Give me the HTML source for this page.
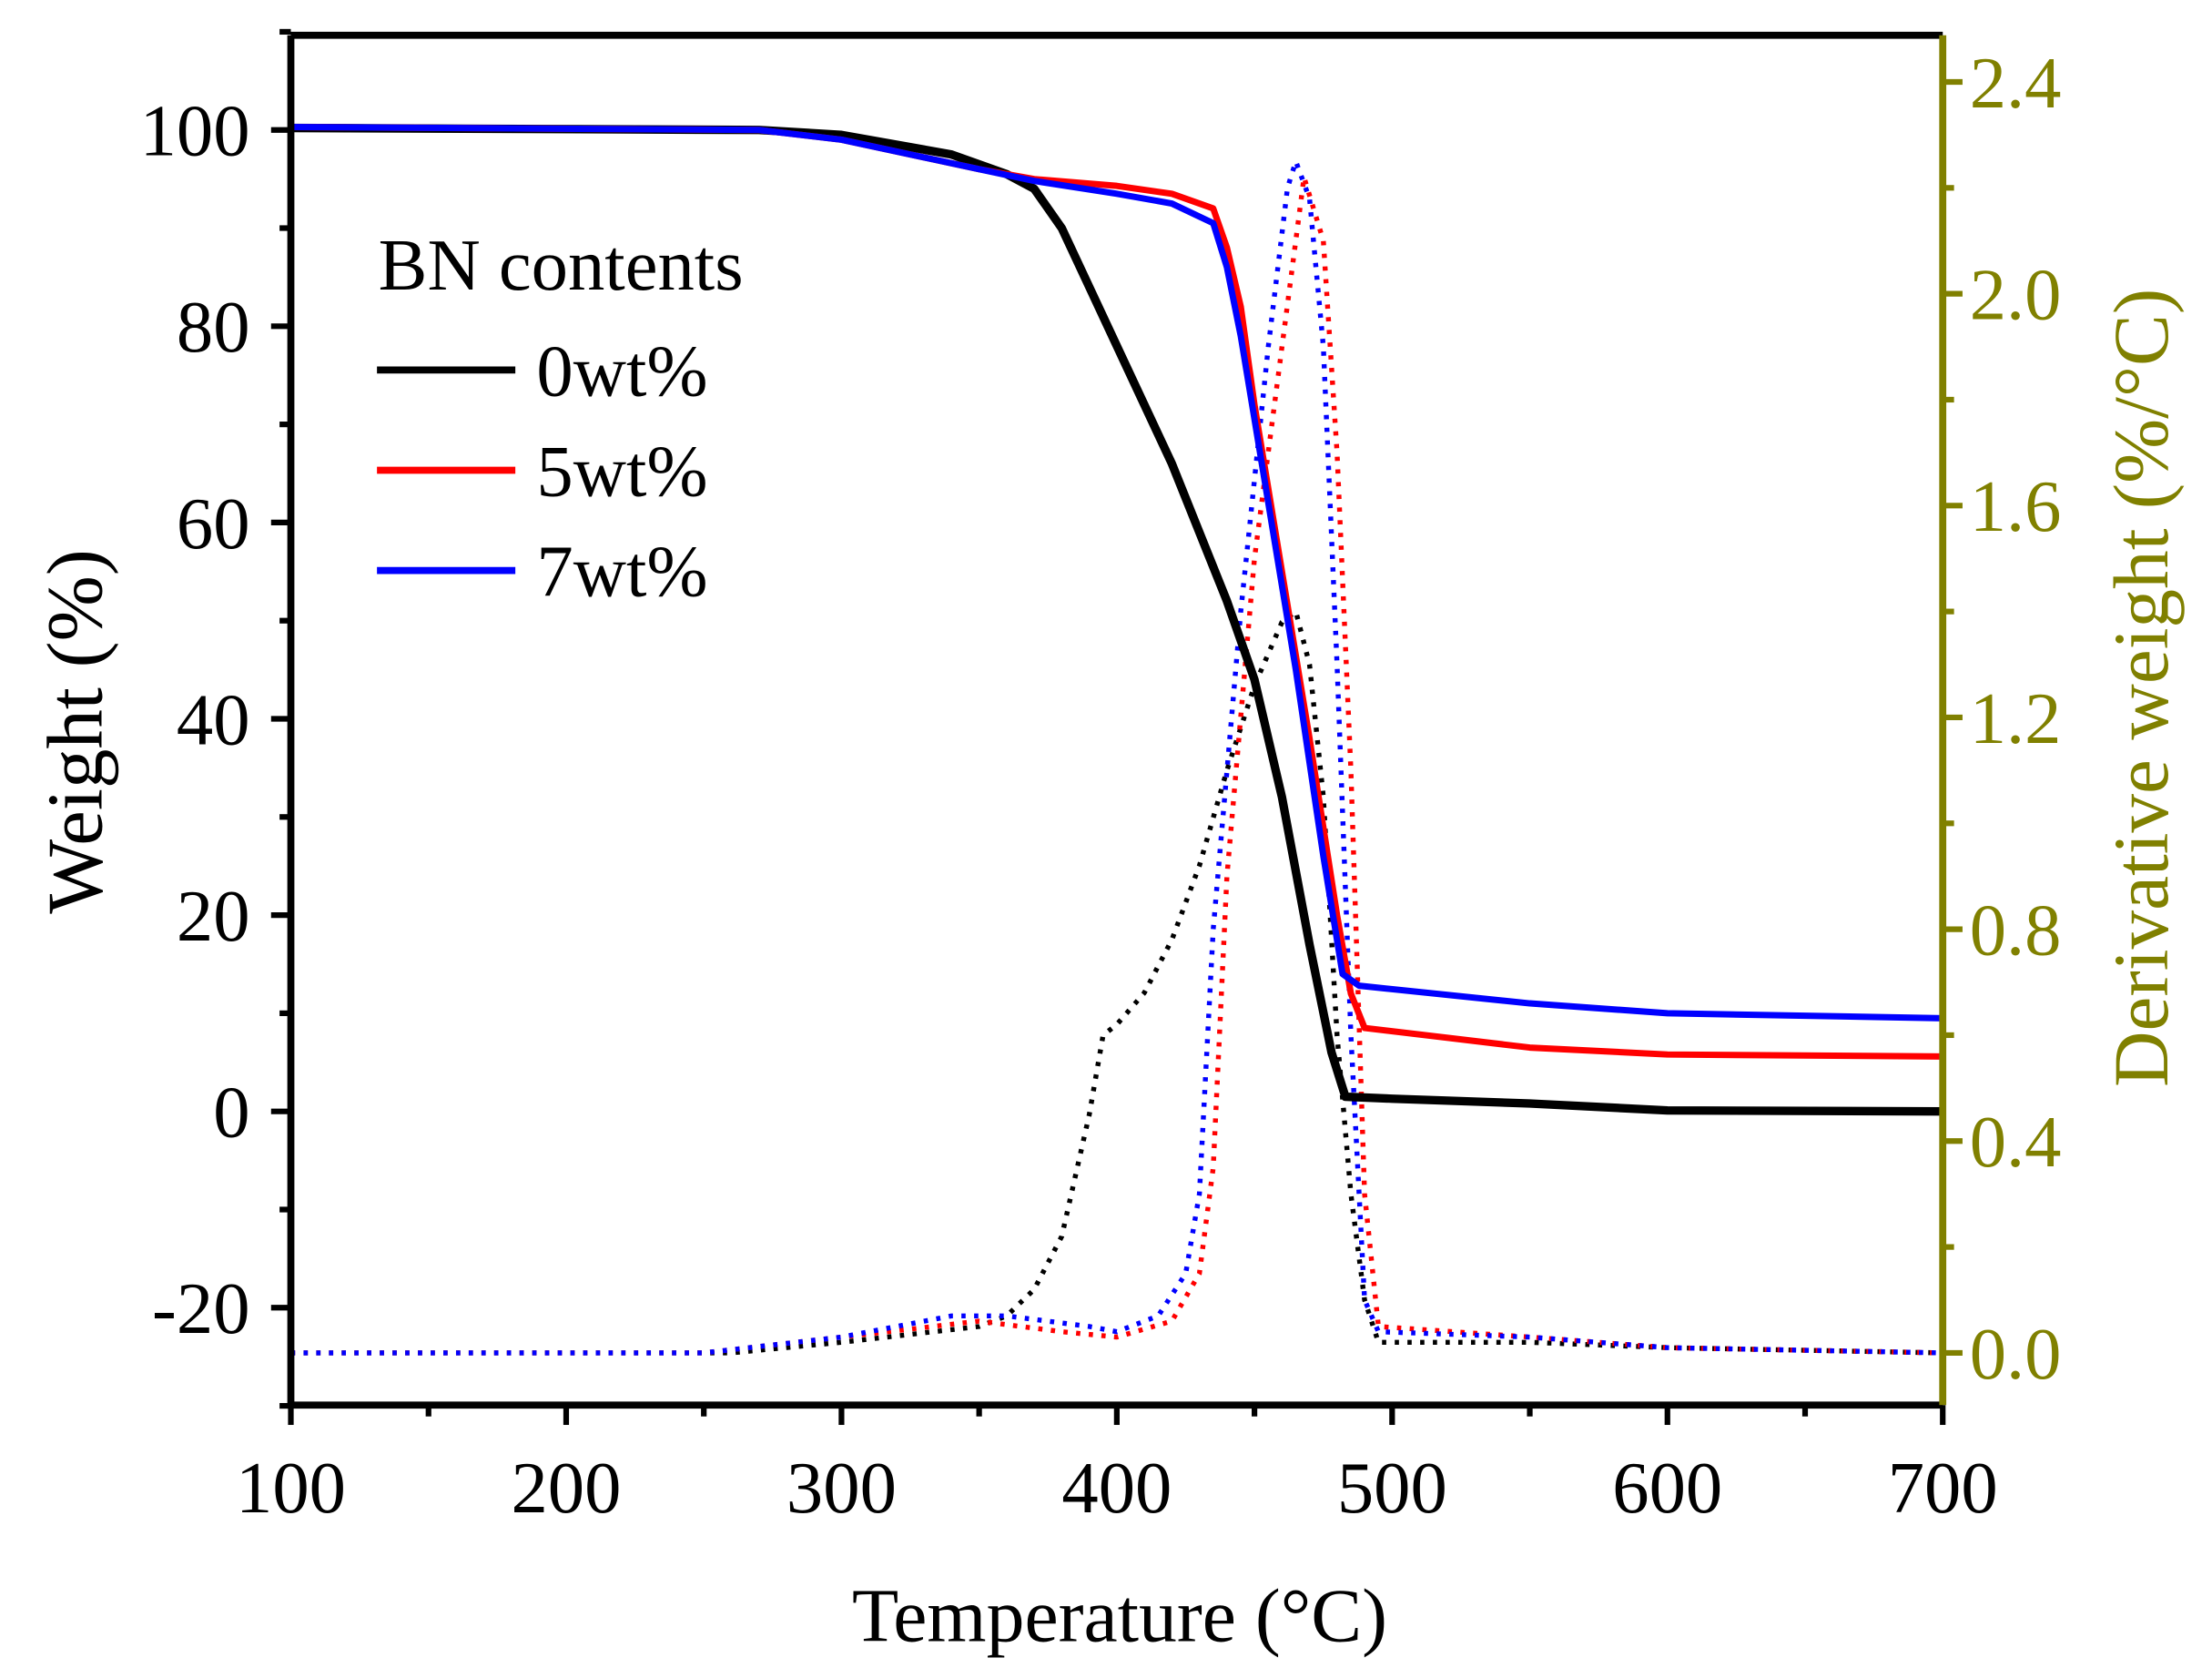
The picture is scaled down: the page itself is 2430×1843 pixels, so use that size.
<!DOCTYPE html>
<html><head><meta charset="utf-8"><style>
html,body{margin:0;padding:0;background:#fff;}
svg{display:block;}
text{font-family:"Liberation Serif",serif;}
</style></head><body>
<svg id="s" width="2430" height="1843" viewBox="0 0 1566.7 1188.2" xmlns="http://www.w3.org/2000/svg"></svg>
<script>
const s=document.getElementById('s');
let h='';
const X=t=>206+(t-100)*1.95, Y=w=>787-w*6.95, YD=v=>958-v*375;
function path(pts,fy,col,w,dash){const p=pts.map((q,i)=>(i?'L':'M')+X(q[0]).toFixed(1)+' '+fy(q[1]).toFixed(1)).join(' ');h+=`<path d="${p}" fill="none" stroke="${col}" stroke-width="${w}" ${dash?'stroke-dasharray="'+dash+'"':''} stroke-linejoin="round"/>`;}
// DTG
path([[100,0],[260,0],[300,0.02],[350,0.05],[360,0.07],[370,0.12],[380,0.22],[390,0.45],[395,0.6],[400,0.62],[410,0.68],[420,0.78],[430,0.92],[440,1.1],[450,1.26],[460,1.38],[465,1.4],[470,1.3],[475,1.05],[480,0.6],[485,0.3],[490,0.1],[495,0.02],[550,0.02],[600,0.01],[700,0]],YD,'#000',3.5,'3 6');
path([[100,0],[250,0],[300,0.03],[350,0.06],[380,0.04],[400,0.03],[420,0.06],[430,0.15],[435,0.35],[440,0.9],[450,1.5],[460,1.9],[468,2.22],[475,2.1],[480,1.7],[485,1.1],[490,0.3],[495,0.05],[550,0.03],[600,0.01],[700,0]],YD,'#f00',3.5,'3 6');
path([[100,0],[250,0],[300,0.03],[340,0.07],[360,0.07],[390,0.05],[400,0.04],[415,0.07],[425,0.15],[430,0.3],[435,0.8],[445,1.4],[455,1.9],[462,2.2],[465,2.25],[470,2.18],[475,1.9],[480,1.3],[485,0.6],[490,0.1],[495,0.04],[550,0.03],[600,0.01],[700,0]],YD,'#00f',3.5,'3 6');
// TGA
path([[100,100.2],[270,100],[300,99.5],[340,97.5],[360,95.5],[370,94],[380,90],[390,84],[400,78],[420,66],[440,52],[450,44],[460,32],[470,17],[478,6],[483,1.5],[500,1.3],[550,0.8],[600,0.1],[700,0]],Y,'#000',6);
path([[100,100.3],[270,100],[300,99],[350,96],[370,95],[400,94.3],[420,93.5],[435,92],[440,88],[445,82],[450,72],[460,55],[470,38],[480,20],[485,12],[490,8.5],[550,6.5],[600,5.8],[700,5.6]],Y,'#f00',4.5);
path([[100,100.3],[270,100],[300,99],[350,96],[370,94.8],[400,93.5],[420,92.5],[435,90.5],[440,86],[445,79],[455,62],[465,45],[475,26],[482,14],[488,12.8],[550,11],[600,10],[700,9.5]],Y,'#00f',4.5);
// axes
h+=`<path d="M206 25 H1376 M206 25 V995 H1376" stroke="#000" stroke-width="5" fill="none"/>`;
h+=`<path d="M1376 25 V995" stroke="#808000" stroke-width="5"/>`;
for(let t=100;t<=700;t+=50){const maj=t%100==0;h+=`<line x1="${X(t)}" y1="995" x2="${X(t)}" y2="${995+(maj?14:8)}" stroke="#000" stroke-width="4"/>`;if(maj)h+=`<text x="${X(t)}" y="1071" font-size="52" text-anchor="middle">${t}</text>`;}
for(let w=-30;w<=110;w+=10){const maj=w%20==0;h+=`<line x1="206" y1="${Y(w)}" x2="${206-(maj?14:8)}" y2="${Y(w)}" stroke="#000" stroke-width="4"/>`;if(maj&&w>=-20&&w<=100)h+=`<text x="177" y="${Y(w)+18}" font-size="52" text-anchor="end">${w}</text>`;}
for(let i=0;i<=12;i++){const v=i*0.2;if(YD(v)<25)continue;const maj=i%2==0;h+=`<line x1="1376" y1="${YD(v)}" x2="${1376+(maj?14:8)}" y2="${YD(v)}" stroke="#808000" stroke-width="4"/>`;if(maj)h+=`<text x="1395" y="${YD(v)+18}" font-size="52" fill="#808000">${v.toFixed(1)}</text>`;}
// titles
h+=`<text x="793" y="1162" font-size="54" text-anchor="middle">Temperature (°C)</text>`;
h+=`<text transform="translate(72 518) rotate(-90)" font-size="56" text-anchor="middle">Weight (%)</text>`;
h+=`<text transform="translate(1535 487) rotate(-90)" font-size="55" text-anchor="middle" fill="#808000">Derivative weight (%/°C)</text>`;
// legend
h+=`<text x="268" y="205" font-size="52">BN contents</text>`;
[['#000','0wt%',262],['#f00','5wt%',333],['#00f','7wt%',404]].forEach(([c,l,y])=>{h+=`<line x1="267" y1="${y}" x2="365" y2="${y}" stroke="${c}" stroke-width="5"/><text x="380" y="${y+18}" font-size="52">${l}</text>`;});
s.innerHTML=h;
</script>
</body></html>
